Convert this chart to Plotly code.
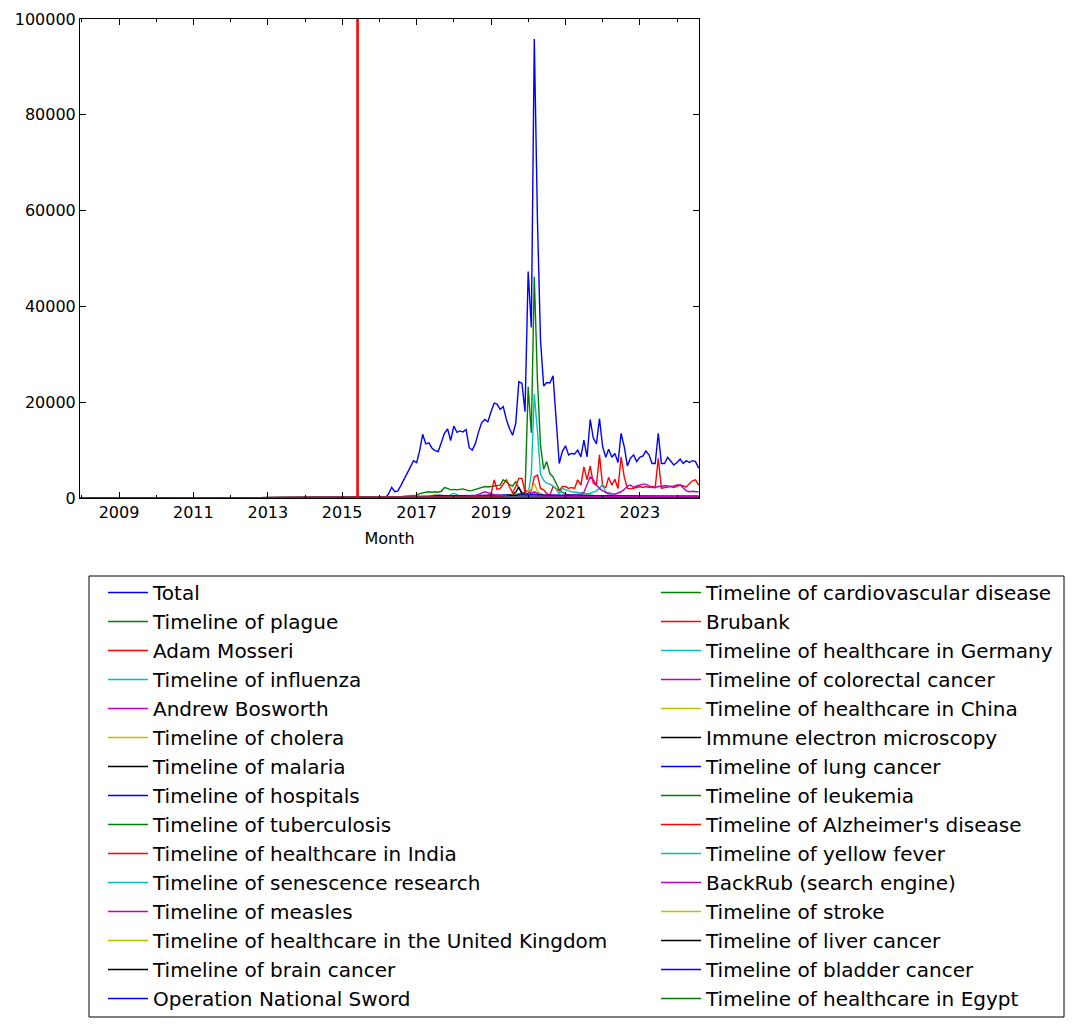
import plotly.graph_objects as go
import pandas as pd

# ---------------- data ----------------
months = pd.date_range("2016-03-01", "2024-08-01", freq="MS")      # monthly series
quarters = pd.date_range("2016-05-01", "2024-08-01", freq="3MS")   # coarse series
zero_months = ["2007-12-01", "2016-02-01"]  # no views before the series begin
marker_date = "2015-06-01"

total = [0, 900, 2230, 1300, 1500, 2700, 3900, 5000, 6500, 7800,
         7400, 10000, 13300, 11300, 11500, 10400, 9900, 9700, 11600, 13500,
         14400, 12000, 15000, 13700, 14000, 13800, 14300, 10500, 10000, 11400,
         13800, 15700, 16400, 15900, 18000, 19800, 19600, 18500, 19100, 16400,
         14500, 13100, 15600, 24300, 23900, 18000, 47300, 35600, 95800, 58000,
         33000, 23400, 24100, 24000, 25500, 16500, 7200, 9700, 10900, 9000,
         9300, 9200, 10000, 8600, 12100, 8600, 16400, 12500, 11300, 16600,
         10700, 8500, 10200, 8500, 9300, 7400, 13500, 10700, 6700, 8300,
         9000, 7600, 8500, 8800, 9800, 9000, 7200, 7200, 13500, 7200,
         7200, 8500, 7600, 6900, 7400, 8100, 7200, 7800, 7400, 7800,
         7600, 6200]
plague = [0, 50, 100, 150, 200, 250, 300, 320, 400, 500,
          600, 900, 1100, 1200, 1300, 1200, 1300, 1200, 1400, 2200,
          2000, 1700, 1800, 1700, 1800, 1900, 1700, 1500, 1600, 1800,
          2000, 2200, 2400, 2300, 2400, 2400, 2500, 2700, 3800, 3400,
          2800, 2500, 3400, 2000, 1200, 700, 23200, 13600, 46200, 24600,
          11000, 6000, 7600, 5100, 4400, 3100, 1700, 1200, 800, 700,
          700, 620, 600, 580, 610, 550, 600, 540, 500, 520,
          450, 470, 400, 420, 390, 350, 370, 340, 300, 320,
          300, 290, 310, 280, 270, 290, 260, 250, 270, 250,
          240, 260, 240, 230, 250, 230, 220, 240, 220, 210,
          220, 200]
influenza = [0, 0, 50, 80, 100, 120, 150, 150, 180, 200,
             250, 300, 280, 260, 300, 350, 500, 400, 350, 300,
             350, 600, 1000, 700, 400, 350, 300, 300, 280, 300,
             350, 400, 450, 500, 450, 400, 350, 350, 400, 450,
             500, 550, 600, 500, 700, 900, 800, 5000, 21700, 14000,
             5000, 3700, 3100, 2900, 2500, 1900, 800, 2000, 1700, 1500,
             1300, 1200, 1100, 1000, 900, 900, 1000, 1200, 1500, 2000,
             2900, 1100, 700, 600, 500, 520, 450, 470, 400, 420,
             400, 380, 400, 370, 360, 380, 350, 340, 360, 330,
             330, 320, 340, 310, 300, 320, 300, 290, 310, 290,
             280, 300]
mosseri = [0, 0, 0, 20, 30, 40, 50, 60, 70, 80,
           90, 100, 100, 110, 120, 120, 130, 140, 150, 150,
           160, 170, 180, 180, 190, 200, 200, 210, 220, 250,
           260, 280, 300, 600, 800, 3800, 1800, 2000, 3000, 3800,
           2400, 1100, 2400, 4100, 4100, 1300, 1500, 1500, 4400, 4800,
           2000, 1700, 900, 600, 2400, 2000, 1500, 2400, 2400, 2000,
           2200, 2000, 3800, 2700, 6500, 3800, 6700, 3100, 2600, 9000,
           2400, 2200, 4300, 2700, 3900, 2000, 8600, 4400, 2000, 1900,
           2000, 2200, 2400, 2200, 2400, 2200, 2400, 2200, 8300, 2000,
           2200, 2300, 2400, 2200, 2500, 2700, 2500, 2300, 3000, 3600,
           3800, 2700]
bosworth = [0, 20, 40, 60, 80, 100, 100, 120, 120, 140,
            150, 150, 160, 170, 170, 180, 190, 200, 200, 210,
            220, 230, 230, 240, 250, 250, 260, 270, 280, 290,
            300, 300, 320, 330, 350, 360, 380, 400, 420, 450,
            480, 500, 520, 600, 800, 1300, 1300, 1000, 1300, 1000,
            800, 700, 650, 600, 600, 650, 600, 550, 600, 650,
            700, 750, 700, 800, 1200, 2700, 4400, 3800, 2700, 2000,
            1500, 1200, 1000, 900, 800, 1000, 1300, 1800, 2500, 2700,
            2200, 2500, 2700, 2900, 2900, 2500, 2200, 2200, 2400, 2400,
            2600, 2500, 2400, 2500, 2700, 2700, 2200, 1500, 1300, 1400,
            1300, 1300]
cholera = [0, 0, 50, 100, 150, 200, 250, 300, 350, 450,
           400, 300, 250, 300, 350, 500, 700, 500, 350, 300,
           250, 250, 300, 300, 280, 260, 250, 260, 280, 300,
           320, 400, 500, 600, 500, 400, 350, 300, 300, 320,
           350, 400, 600, 800, 700, 600, 1500, 1800, 3100, 1500,
           800, 600, 500, 450, 400, 400, 350, 350, 330, 320,
           300, 300, 290, 280, 280, 270, 260, 260, 250, 250,
           240, 240, 230, 230, 220, 220, 210, 210, 200, 200,
           200, 190, 190, 190, 180, 180, 180, 170, 170, 170,
           160, 160, 160, 160, 150, 150, 150, 150, 140, 140,
           140, 140]
malaria = [0, 0, 30, 50, 80, 100, 120, 150, 170, 200,
           200, 220, 220, 230, 240, 250, 250, 260, 270, 280,
           280, 290, 300, 300, 310, 320, 320, 330, 340, 350,
           350, 360, 370, 380, 400, 420, 450, 500, 550, 600,
           700, 800, 1200, 2300, 800, 500, 600, 700, 800, 700,
           600, 500, 480, 460, 450, 440, 430, 420, 410, 400,
           390, 380, 370, 360, 350, 350, 340, 330, 320, 320,
           310, 300, 300, 290, 290, 280, 280, 270, 270, 260,
           260, 250, 250, 240, 240, 240, 230, 230, 220, 220,
           220, 210, 210, 210, 200, 200, 200, 190, 190, 190,
           180, 180]

hospitals = [150, 250, 320, 380, 420, 400, 450, 480, 520, 500, 540, 520, 560, 620, 900, 700, 620, 560, 520, 540, 490, 510, 460, 480, 470, 440, 460, 430, 420, 450, 410, 400, 420, 400]
tuberculosis = [60, 110, 160, 210, 260, 240, 270, 290, 310, 330, 360, 390, 410, 600, 500, 410, 360, 330, 310, 320, 300, 310, 290, 280, 300, 290, 270, 280, 260, 270, 260, 250, 250, 240]
india = [0, 40, 90, 110, 120, 150, 140, 170, 160, 210, 220, 260, 300, 520, 360, 300, 270, 260, 250, 230, 240, 220, 210, 200, 210, 190, 180, 190, 170, 170, 160, 170, 150, 150]
senescence = [20, 40, 70, 80, 110, 120, 100, 130, 140, 160, 150, 150, 140, 170, 150, 140, 130, 140, 120, 120, 110, 120, 100, 100, 110, 90, 90, 100, 80, 80, 90, 70, 70, 80]
measles = [30, 60, 90, 120, 150, 170, 200, 230, 300, 500, 1300, 700, 420, 500, 300, 260, 220, 210, 200, 190, 180, 190, 170, 170, 160, 170, 150, 150, 140, 150, 130, 130, 120, 120]
uk = [20, 50, 80, 100, 130, 130, 140, 160, 160, 170, 190, 200, 220, 400, 260, 220, 200, 190, 180, 170, 160, 170, 150, 150, 140, 150, 130, 130, 120, 130, 110, 110, 100, 100]
brain = [10, 30, 50, 60, 70, 90, 90, 100, 110, 110, 120, 130, 130, 150, 140, 130, 120, 120, 110, 110, 100, 110, 100, 90, 90, 100, 80, 80, 80, 90, 70, 70, 70, 70]
sword = [0, 0, 0, 60, 220, 600, 420, 300, 250, 210, 180, 160, 150, 140, 130, 120, 110, 100, 100, 90, 90, 80, 80, 80, 70, 70, 70, 60, 60, 60, 60, 50, 50, 50]
cardio = [20, 50, 80, 100, 130, 140, 150, 170, 170, 180, 200, 200, 210, 260, 230, 220, 210, 200, 190, 190, 180, 180, 170, 170, 160, 170, 150, 150, 150, 140, 140, 140, 130, 130]
brubank = [0, 0, 0, 0, 0, 0, 0, 0, 0, 0, 20, 50, 80, 120, 150, 180, 210, 250, 220, 200, 190, 180, 170, 160, 150, 150, 140, 140, 130, 130, 120, 120, 110, 110]
germany = [10, 20, 30, 40, 50, 60, 60, 70, 70, 80, 80, 90, 90, 200, 120, 100, 90, 90, 80, 80, 80, 70, 70, 70, 60, 60, 60, 60, 50, 50, 50, 50, 50, 50]
colorectal = [10, 30, 50, 70, 90, 100, 110, 120, 130, 140, 150, 160, 170, 190, 180, 170, 160, 160, 150, 150, 140, 140, 140, 130, 130, 130, 120, 120, 120, 110, 110, 110, 100, 100]
china = [10, 20, 40, 60, 80, 90, 100, 110, 120, 130, 140, 150, 160, 700, 250, 180, 160, 150, 140, 140, 130, 130, 120, 120, 110, 110, 100, 100, 100, 90, 90, 90, 80, 80]
iem = [0, 0, 10, 20, 30, 40, 50, 60, 70, 80, 90, 100, 200, 600, 300, 200, 150, 120, 110, 100, 90, 90, 80, 80, 70, 70, 60, 60, 60, 50, 50, 50, 40, 40]
lung = [20, 40, 60, 80, 100, 120, 130, 140, 150, 160, 170, 180, 190, 220, 200, 190, 180, 170, 170, 160, 160, 150, 150, 140, 140, 130, 130, 130, 120, 120, 120, 110, 110, 110]
leukemia = [10, 30, 50, 70, 90, 100, 110, 120, 130, 140, 150, 160, 170, 200, 180, 170, 160, 150, 150, 140, 140, 130, 130, 120, 120, 120, 110, 110, 110, 100, 100, 100, 90, 90]
alzheimers = [10, 30, 50, 70, 90, 100, 110, 120, 130, 140, 150, 160, 170, 190, 180, 170, 160, 160, 150, 150, 140, 140, 130, 130, 130, 120, 120, 120, 110, 110, 110, 100, 100, 100]
yellow_fever = [10, 20, 30, 40, 50, 60, 70, 80, 90, 100, 110, 120, 130, 180, 150, 130, 120, 110, 100, 100, 90, 90, 90, 80, 80, 80, 70, 70, 70, 60, 60, 60, 50, 50]
backrub = [0, 10, 30, 20, 40, 60, 50, 70, 90, 80, 100, 120, 110, 130, 150, 140, 160, 180, 170, 200, 220, 210, 250, 270, 260, 300, 320, 310, 350, 370, 360, 400, 420, 410]
stroke = [10, 20, 30, 40, 50, 50, 60, 60, 70, 70, 80, 80, 90, 120, 100, 90, 90, 80, 80, 80, 70, 70, 70, 60, 60, 60, 60, 50, 50, 50, 50, 40, 40, 40]
liver = [10, 20, 30, 30, 40, 40, 50, 50, 60, 60, 70, 70, 80, 100, 90, 80, 80, 70, 70, 70, 60, 60, 60, 60, 50, 50, 50, 50, 40, 40, 40, 40, 40, 40]
bladder = [0, 10, 20, 30, 30, 40, 40, 50, 50, 60, 60, 70, 70, 90, 80, 70, 70, 60, 60, 60, 60, 50, 50, 50, 50, 40, 40, 40, 40, 40, 30, 30, 30, 30]
egypt = [0, 10, 10, 20, 20, 30, 30, 30, 40, 40, 40, 50, 50, 70, 60, 50, 50, 50, 40, 40, 40, 40, 40, 30, 30, 30, 30, 30, 30, 20, 20, 20, 20, 20]

series_names = [
    "Total", "Timeline of plague", "Adam Mosseri", "Timeline of influenza",
    "Andrew Bosworth", "Timeline of cholera", "Timeline of malaria",
    "Timeline of hospitals", "Timeline of tuberculosis", "Timeline of healthcare in India",
    "Timeline of senescence research", "Timeline of measles",
    "Timeline of healthcare in the United Kingdom", "Timeline of brain cancer",
    "Operation National Sword", "Timeline of cardiovascular disease", "Brubank",
    "Timeline of healthcare in Germany", "Timeline of colorectal cancer",
    "Timeline of healthcare in China", "Immune electron microscopy",
    "Timeline of lung cancer", "Timeline of leukemia", "Timeline of Alzheimer's disease",
    "Timeline of yellow fever", "BackRub (search engine)", "Timeline of stroke",
    "Timeline of liver cancer", "Timeline of bladder cancer", "Timeline of healthcare in Egypt",
]
series_values = [
    (months, total), (months, plague), (months, mosseri), (months, influenza),
    (months, bosworth), (months, cholera), (months, malaria),
    (quarters, hospitals), (quarters, tuberculosis), (quarters, india),
    (quarters, senescence), (quarters, measles), (quarters, uk), (quarters, brain),
    (quarters, sword), (quarters, cardio), (quarters, brubank), (quarters, germany),
    (quarters, colorectal), (quarters, china), (quarters, iem), (quarters, lung),
    (quarters, leukemia), (quarters, alzheimers), (quarters, yellow_fever),
    (quarters, backrub), (quarters, stroke), (quarters, liver), (quarters, bladder),
    (quarters, egypt),
]

# matplotlib "classic" colour cycle
cycle = ["#0000ff", "#008000", "#ff0000", "#00bfbf", "#bf00bf", "#bfbf00", "#000000"]

FONT = "DejaVu Sans"
OFF = 8                      # page body margin of the html page
W, H = 1065, 1019            # figure size so that the page fits the window
L, T = 72, 11                # plot area starts at page px (80, 19)
R = W - (699 - OFF)          # plot area ends at page px x = 699
B = H - (498 - OFF)          # plot area ends at page px y = 498
pw, ph = W - L - R, H - T - B

def px_x(p):
    """page pixel x -> paper coordinate"""
    return (p - OFF - L) / pw

def px_y(p):
    """page pixel y -> paper coordinate"""
    return (H - B - (p - OFF)) / ph

fig = go.Figure()
n_first = 15
for i, (name, (dates, vals)) in enumerate(zip(series_names, series_values)):
    n = min(len(dates), len(vals))
    xs = zero_months + [d.strftime("%Y-%m-%d") for d in dates[:n]]
    ys = [0, 0] + list(vals[:n])
    fig.add_trace(go.Scatter(
        x=xs, y=ys, mode="lines", name=name,
        line=dict(color=cycle[i % len(cycle)], width=1.4),
        legend="legend" if i < n_first else "legend2",
        hoverinfo="skip",
    ))

fig.add_shape(type="line", xref="x", yref="paper", x0=marker_date, x1=marker_date,
              y0=0, y1=1, line=dict(color="#ff0000", width=2.6), layer="above")

# legend frame
fig.add_shape(type="rect", xref="paper", yref="paper",
              x0=px_x(89), x1=px_x(1064), y0=px_y(1017), y1=px_y(576),
              line=dict(color="black", width=1), fillcolor="rgba(0,0,0,0)")

legend_common = dict(
    xanchor="left", yanchor="top", orientation="v", itemwidth=40,
    font=dict(family=FONT, size=20, color="black"),
    bgcolor="rgba(0,0,0,0)", borderwidth=0, itemclick=False, itemdoubleclick=False,
)

fig.update_layout(
    width=W, height=H,
    margin=dict(l=L, r=R, t=T, b=B, autoexpand=False),
    paper_bgcolor="white", plot_bgcolor="white",
    font=dict(family=FONT, size=16, color="black"),
    hovermode=False,
    legend=dict(x=px_x(103), y=px_y(573), **legend_common),
    legend2=dict(x=px_x(656), y=px_y(573), **legend_common),
    xaxis=dict(
        type="date", range=["2007-12-15", "2024-08-04"],
        showgrid=False, zeroline=False,
        showline=True, linecolor="black", linewidth=1, mirror="ticks",
        ticks="inside", ticklen=6, tickwidth=1, tickcolor="black",
        tick0="2009-01-01", dtick="M24", tickformat="%Y",
        tickfont=dict(family=FONT, size=16, color="black"),
        minor=dict(ticks="inside", ticklen=3, tickcolor="black",
                   tick0="2008-01-01", dtick="M12", showgrid=False),
        title=dict(text="Month", font=dict(family=FONT, size=16, color="black"), standoff=11),
    ),
    yaxis=dict(
        range=[0, 100000], dtick=20000, tickformat="d",
        showgrid=False, zeroline=False,
        showline=True, linecolor="black", linewidth=1, mirror="ticks",
        ticks="inside", ticklen=6, tickwidth=1, tickcolor="black",
        tickfont=dict(family=FONT, size=16, color="black"),
    ),
)

fig.write_html("out.html")
